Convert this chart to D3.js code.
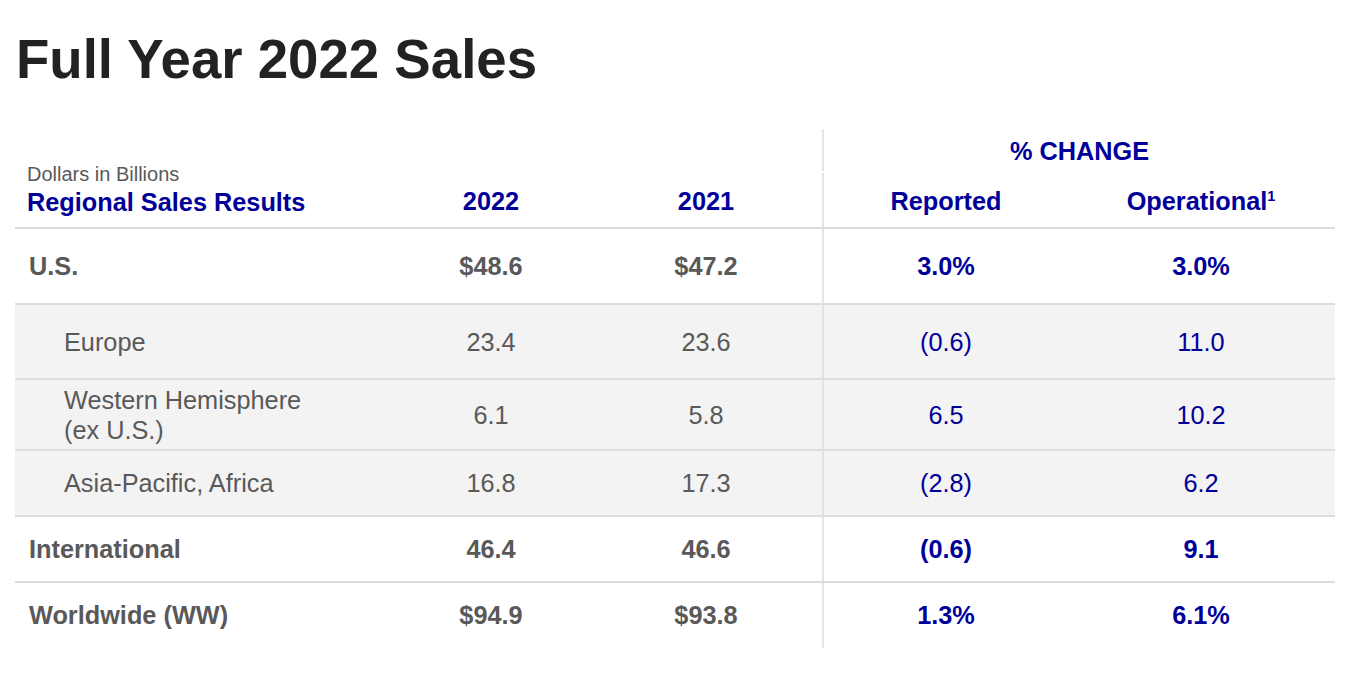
<!DOCTYPE html>
<html>
<head>
<meta charset="utf-8">
<script src="https://cdn.jsdelivr.net/npm/d3@7"></script>
<style>
  body { margin: 0; background: #fff; }
  svg { display: block; font-family: "Liberation Sans", Arial, sans-serif; }
</style>
</head>
<body>
<script>
// -------------------- DATA --------------------
var regions   = ["U.S.", "Europe", "Western Hemisphere|(ex U.S.)", "Asia-Pacific, Africa", "International", "Worldwide (WW)"];
var isTotal   = [true, false, false, false, true, true];
var sales2022 = ["$48.6", "23.4", "6.1", "16.8", "46.4", "$94.9"];
var sales2021 = ["$47.2", "23.6", "5.8", "17.3", "46.6", "$93.8"];
var reported  = ["3.0%", "(0.6)", "6.5", "(2.8)", "(0.6)", "1.3%"];
var operational = ["3.0%", "11.0", "10.2", "6.2", "9.1", "6.1%"];
var columns   = ["2022", "2021", "Reported", "Operational"];

// -------------------- LAYOUT --------------------
var w = 1369, h = 692;
var left = 15, right = 1335;
var headerBottom = 228;
var rowHeights = [76, 75, 71, 66, 66, 66];
var dividerX = 823;

var grey = "#595959", blue = "#000099", lineCol = "#dddddd";
var fs = 25.3;

var tops = [];
var acc = headerBottom;
rowHeights.forEach(function(rh){ tops.push(acc); acc += rh; });
var tableBottom = acc;

var yTop = d3.scaleOrdinal().domain(regions).range(tops);
var yH = d3.scaleOrdinal().domain(regions).range(rowHeights);
var x = d3.scaleOrdinal().domain(columns).range([491, 706, 946, 1201]);

var svg = d3.select("body").append("svg")
  .attr("width", w)
  .attr("height", h);

// title
svg.append("text")
  .attr("x", 16).attr("y", 78)
  .attr("font-size", "54.6px")
  .attr("font-weight", "bold")
  .attr("fill", "#222222")
  .text("Full Year 2022 Sales");

// shaded sub-rows
svg.selectAll("rect.shade")
  .data(regions.filter(function(d, i){ return !isTotal[i]; }))
  .enter().append("rect")
  .attr("class", "shade")
  .attr("x", left)
  .attr("y", function(d){ return yTop(d); })
  .attr("width", right - left)
  .attr("height", function(d){ return yH(d); })
  .attr("fill", "#f3f3f3");

// horizontal rules
svg.selectAll("line.rule")
  .data(regions)
  .enter().append("line")
  .attr("class", "rule")
  .attr("x1", left).attr("x2", right)
  .attr("y1", function(d){ return yTop(d); })
  .attr("y2", function(d){ return yTop(d); })
  .attr("stroke", lineCol)
  .attr("stroke-width", 2);

// vertical divider (small break under % CHANGE)
svg.append("line")
  .attr("x1", dividerX).attr("x2", dividerX)
  .attr("y1", 129).attr("y2", 171)
  .attr("stroke", lineCol).attr("stroke-width", 1.5);
svg.append("line")
  .attr("x1", dividerX).attr("x2", dividerX)
  .attr("y1", 173).attr("y2", tableBottom)
  .attr("stroke", lineCol).attr("stroke-width", 1.5);

// header
svg.append("text")
  .attr("x", 27).attr("y", 181)
  .attr("font-size", "20px")
  .attr("fill", grey)
  .text("Dollars in Billions");

svg.append("text")
  .attr("x", 27).attr("y", 211)
  .attr("font-size", fs + "px")
  .attr("font-weight", "bold")
  .attr("fill", blue)
  .text("Regional Sales Results");

svg.append("text")
  .attr("x", (x("Reported") + x("Operational")) / 2 + 6).attr("y", 160)
  .attr("text-anchor", "middle")
  .attr("font-size", fs + "px")
  .attr("font-weight", "bold")
  .attr("fill", blue)
  .text("% CHANGE");

var head = svg.selectAll("text.colhead")
  .data(columns)
  .enter().append("text")
  .attr("class", "colhead")
  .attr("x", function(d){ return x(d); })
  .attr("y", 210)
  .attr("text-anchor", "middle")
  .attr("font-size", fs + "px")
  .attr("font-weight", "bold")
  .attr("fill", blue);
head.append("tspan").text(function(d){ return d; });
head.filter(function(d){ return d === "Operational"; })
  .append("tspan")
  .attr("font-size", "14.5px")
  .attr("dy", -9)
  .text("1");

// body rows
var valueCols = [
  { key: "2022", vals: sales2022, color: grey },
  { key: "2021", vals: sales2021, color: grey },
  { key: "Reported", vals: reported, color: blue },
  { key: "Operational", vals: operational, color: blue }
];

regions.forEach(function(r, i) {
  var cy = yTop(r) + yH(r) / 2;
  var weight = isTotal[i] ? "bold" : "normal";
  var lines = r.split("|");

  svg.append("text")
    .attr("x", isTotal[i] ? 29 : 64)
    .attr("font-size", fs + "px")
    .attr("font-weight", weight)
    .attr("fill", grey)
    .selectAll("tspan")
    .data(lines)
    .enter().append("tspan")
    .attr("x", isTotal[i] ? 29 : 64)
    .attr("y", function(d, j){ return cy + fs * 0.36 + (j - (lines.length - 1) / 2) * 30; })
    .text(function(d){ return d; });

  valueCols.forEach(function(c) {
    svg.append("text")
      .attr("x", x(c.key))
      .attr("y", cy + fs * 0.36)
      .attr("text-anchor", "middle")
      .attr("font-size", fs + "px")
      .attr("font-weight", weight)
      .attr("fill", c.color)
      .text(c.vals[i]);
  });
});
</script>
</body>
</html>
